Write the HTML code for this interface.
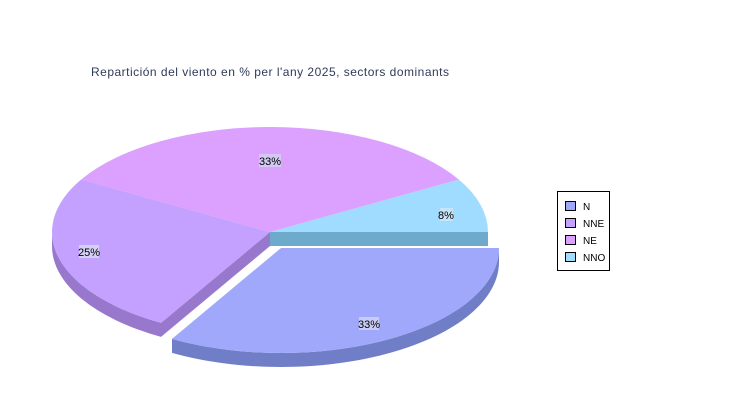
<!DOCTYPE html>
<html><head><meta charset="utf-8"><style>
body{margin:0;background:#fff;}
svg{display:block;font-family:"Liberation Sans",sans-serif;}
</style></head><body>
<svg width="750" height="400" viewBox="0 0 750 400">
<rect width="750" height="400" fill="#fff"/>
<text x="91" y="76" font-size="12" fill="#2e3a5a" textLength="358" lengthAdjust="spacing">Repartición del viento en % per l'any 2025, sectors dominants</text>
<rect x="270" y="232" width="218" height="14" fill="#6eaacc"/>
<path d="M52,232 A218,105 0 0 0 161,322.9 L161,336.9 A218,105 0 0 1 52,246 Z" fill="#9778cc"/>
<path d="M270,232 L161,322.9 L161,336.9 L270,246 Z" fill="#9778cc"/>
<path d="M270,232 L488,232 A218,105 0 0 0 458.8,179.5 Z" fill="#a0dcff"/>
<path d="M270,232 L458.8,179.5 A218,105 0 0 0 81.2,179.5 Z" fill="#dca0ff"/>
<path d="M270,232 L81.2,179.5 A218,105 0 0 0 161,322.9 Z" fill="#c4a0ff"/>
<path d="M172,338.9 A218,105 0 0 0 499,248 L499,262 A218,105 0 0 1 172,352.9 Z" fill="#707ec8"/>
<path d="M281,248 L172,338.9 A218,105 0 0 0 499,248 Z" fill="#a0a8fc"/>
<g font-size="11" fill="#000" text-anchor="middle">
<rect x="259" y="154" width="22" height="13" fill="#d4c8f4"/><text x="270" y="165">33%</text>
<rect x="79" y="245" width="20" height="13" fill="#d4d0f4"/><text x="89" y="256">25%</text>
<rect x="440" y="208" width="13" height="13" fill="#c8e4f8"/><text x="446" y="219">8%</text>
<rect x="359" y="317" width="20" height="13" fill="#c8ccf4"/><text x="369" y="328">33%</text>
</g>
<rect x="557.5" y="191.5" width="52" height="79" fill="#fff" stroke="#000"/>
<g stroke="#000" stroke-width="1">
<rect x="565.5" y="201.5" width="10" height="9" fill="#a0a8fc"/>
<rect x="565.5" y="218.5" width="10" height="9" fill="#c4a0ff"/>
<rect x="565.5" y="235.5" width="10" height="9" fill="#dca0ff"/>
<rect x="565.5" y="252.5" width="10" height="9" fill="#a0dcff"/>
</g>
<g font-size="10" fill="#000">
<text x="583" y="210">N</text>
<text x="583" y="227">NNE</text>
<text x="583" y="244">NE</text>
<text x="583" y="261">NNO</text>
</g>
</svg>
</body></html>
